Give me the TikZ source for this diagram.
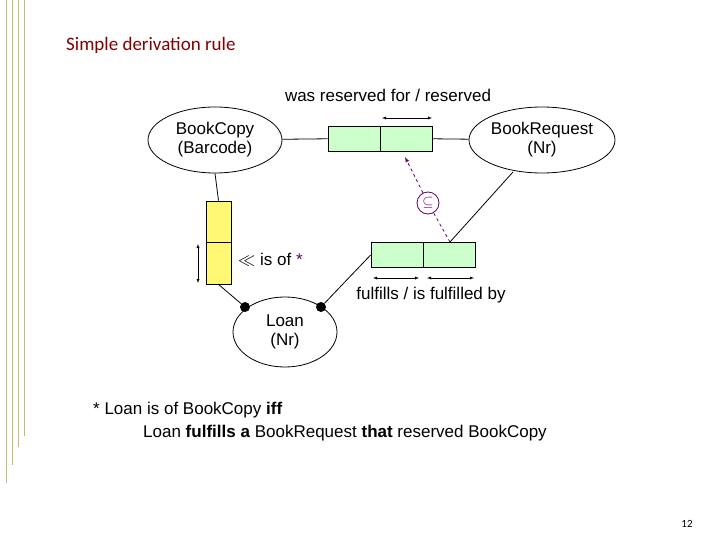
\documentclass[tikz,border=0pt]{standalone}
\usepackage{fontspec}
\setmainfont{Liberation Sans}
\newfontfamily\calib{Carlito}
\usepackage{amssymb}
\usetikzlibrary{shapes.geometric}
\begin{document}
\begin{tikzpicture}[x=1pt,y=-1pt,
  ent/.style={draw,thick,ellipse,inner sep=0pt,align=center,font=\fontsize{17}{19}\selectfont},
  role/.style={draw,thick,fill=green!20,minimum width=52pt,minimum height=25pt,inner sep=0pt},
  yrole/.style={draw,thick,fill=yellow!55,minimum width=25pt,minimum height=41.5pt,inner sep=0pt},
  lbl/.style={font=\fontsize{17}{19}\selectfont,inner sep=0pt},
  uc/.style={<->,>=latex},
  dot/.style={circle,fill=black,inner sep=0pt,minimum size=10pt},
  bar/.style={draw=yellow!60!black!70,line width=1pt}]
\useasboundingbox (0,0) rectangle (720,540);
\foreach \x/\e in {6/483,12/465,18/447,24/436} \draw[bar] (\x,0) -- (\x,\e);
\node[anchor=west,text=red!50!black,font=\calib\fontsize{19}{21}\selectfont,inner sep=0pt] (title) at (66,45) {Simple derivation rule};
\node[ent,minimum width=134pt,minimum height=66pt] (bc) at (215,140) {BookCopy\\(Barcode)};
\node[ent,minimum width=146pt,minimum height=66pt] (br) at (542,140) {BookRequest\\(Nr)};
\node[ent,minimum width=104pt,minimum height=70pt] (loan) at (285,332) {Loan\\(Nr)};
\node[role] (t1) at (354,138.5) {};
\node[role] (t2) at (406,138.5) {};
\node[yrole] (y1) at (218.5,221.75) {};
\node[yrole] (y2) at (218.5,263.25) {};
\node[role] (b1) at (397,255) {};
\node[role] (b2) at (449.5,255) {};
\draw[thick] (bc) -- (t1);
\draw[thick] (t2) -- (br);
\draw[thick] (bc.south) -- (y1.north);
\coordinate (bj) at (450,242);
\coordinate (brs) at (513,172);
\draw[thick] (brs) -- (bj);
\node[dot] (d1) at (245,307) {};
\node[dot] (d2) at (321,307) {};
\draw[thick] (y2.south) -- (d1);
\draw[thick] (d2) -- (b1.west);
\coordinate (a1) at (382,118); \coordinate (a2) at (432,118);
\draw[uc] (a1) -- (a2);
\coordinate (v1) at (198,244); \coordinate (v2) at (198,283);
\draw[uc] (v1) -- (v2);
\coordinate (h1) at (373,278); \coordinate (h2) at (419,278);
\coordinate (h3) at (427,278); \coordinate (h4) at (474,278);
\draw[uc] (h1) -- (h2); \draw[uc] (h3) -- (h4);
\node[draw=violet!80!black,thick,circle,minimum size=22pt,inner sep=0pt,text=violet!80!black,font=\fontsize{15}{15}\selectfont,fill=white] (sub) at (428,203) {$\subseteq$};
\coordinate (dt) at (405,157);
\draw[violet!80!black,thick,dashed] (bj) -- (sub);
\draw[violet!80!black,thick,dashed,-latex] (sub) -- (dt);
\node[lbl] (l1) at (388,95) {was reserved for / reserved};
\node[lbl,anchor=west] (l2) at (238,260) {$\ll$ is of \textcolor{violet!80!black}{*}};
\node[lbl] (l3) at (431,295) {fulfills / is fulfilled by};
\node[lbl,anchor=west] (n1) at (93,410) {* Loan is of BookCopy \textbf{iff}};
\node[lbl,anchor=west] (n2) at (143,433) {Loan \textbf{fulfills a} BookRequest \textbf{that} reserved BookCopy};
\node[font=\calib\fontsize{11}{13}\selectfont,inner sep=0pt] (pg) at (687,524) {12};
\end{tikzpicture}
\end{document}
